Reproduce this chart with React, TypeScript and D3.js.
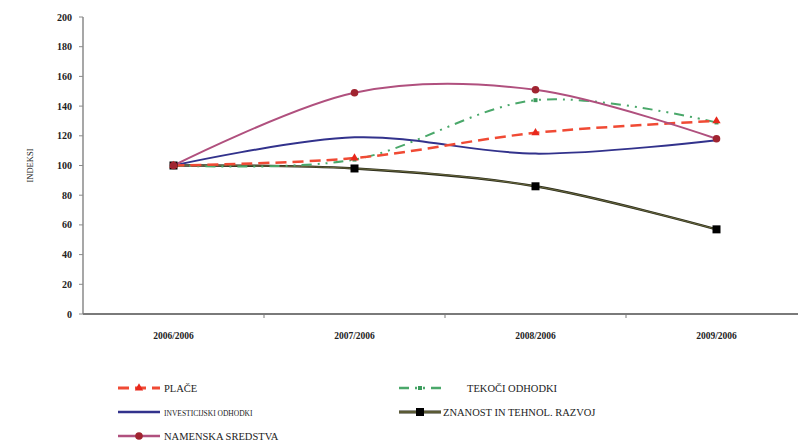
import { useEffect, useRef } from 'react'
import * as d3 from 'd3'

const categories = ['2006/2006', '2007/2006', '2008/2006', '2009/2006']
const yTicks = [0, 20, 40, 60, 80, 100, 120, 140, 160, 180, 200]

const place = [100, 105, 122, 130]
const tekoci = [100, 104, 144, 129]
const investicijski = [100, 119, 108, 117]
const znanost = [100, 98, 86, 57]
const namenska = [100, 149, 151, 118]

interface Series {
  name: string
  values: number[]
  color: string
  width: number
  dash?: string
  marker?: 'triangle' | 'square' | 'circle' | 'dot'
  markerColor?: string
  outline?: string
  fontSize: number
}

const series: Series[] = [
  { name: 'ZNANOST IN TEHNOL. RAZVOJ', values: znanost, color: '#6b6b3e', width: 1.6, outline: '#2a2a1a', marker: 'square', markerColor: '#000', fontSize: 10.5 },
  { name: 'INVESTICIJSKI ODHODKI', values: investicijski, color: '#32328c', width: 2, fontSize: 7.5 },
  { name: 'TEKOČI ODHODKI', values: tekoci, color: '#4aa86a', width: 2, dash: '10,6,2,6,2,6', marker: 'dot', markerColor: '#3c9a5c', fontSize: 10.5 },
  { name: 'PLAČE', values: place, color: '#f04a34', width: 2.5, dash: '11,6', marker: 'triangle', markerColor: '#e8281c', fontSize: 10.5 },
  { name: 'NAMENSKA SREDSTVA', values: namenska, color: '#b0507e', width: 2, marker: 'circle', markerColor: '#a02430', fontSize: 10.5 },
]

const legendOrder = ['PLAČE', 'TEKOČI ODHODKI', 'INVESTICIJSKI ODHODKI', 'ZNANOST IN TEHNOL. RAZVOJ', 'NAMENSKA SREDSTVA']

const FONT = "'Liberation Serif', 'DejaVu Serif', 'Times New Roman', serif"

function drawMarker(g: d3.Selection<SVGGElement, unknown, null, undefined>, s: Series, x: number, y: number) {
  if (s.marker === 'triangle') {
    g.append('path')
      .attr('d', d3.symbol(d3.symbolTriangle, 30)())
      .attr('transform', `translate(${x},${y})`)
      .attr('fill', s.markerColor!)
  } else if (s.marker === 'square') {
    g.append('rect')
      .attr('x', x - 4).attr('y', y - 4)
      .attr('width', 8).attr('height', 8)
      .attr('fill', s.markerColor!)
  } else if (s.marker === 'circle') {
    g.append('circle')
      .attr('cx', x).attr('cy', y).attr('r', 3.8)
      .attr('fill', s.markerColor!)
  } else if (s.marker === 'dot') {
    g.append('rect')
      .attr('x', x - 2).attr('y', y - 2)
      .attr('width', 4).attr('height', 4)
      .attr('fill', s.markerColor!)
  }
}

export default function App() {
  const svgRef = useRef<SVGSVGElement>(null)

  useEffect(() => {
    if (!svgRef.current) return
    const svg = d3.select(svgRef.current)
    svg.selectAll('*').remove()

    const x = d3.scaleBand().domain(categories).range([83, 807]).paddingInner(0).paddingOuter(0)
    const y = d3.scaleLinear().domain([0, 200]).range([314, 17])
    const cx = (c: string) => x(c)! + x.bandwidth() / 2

    // y axis
    const yAxis = svg.append('g')
    yAxis.append('line')
      .attr('x1', 83).attr('x2', 83).attr('y1', y(200)).attr('y2', y(0))
      .attr('stroke', '#8a8a8a').attr('stroke-width', 1.5)
    yTicks.forEach(t => {
      yAxis.append('line')
        .attr('x1', 79).attr('x2', 83).attr('y1', y(t)).attr('y2', y(t))
        .attr('stroke', '#8a8a8a').attr('stroke-width', 1)
      yAxis.append('text')
        .attr('x', 72).attr('y', y(t) + 3.5)
        .attr('text-anchor', 'end')
        .style('font-family', FONT).attr('font-size', 10).attr('font-weight', 'bold')
        .attr('fill', '#222')
        .text(t)
    })

    // x axis
    const xAxis = svg.append('g')
    xAxis.append('line')
      .attr('x1', 83).attr('x2', 807).attr('y1', y(0)).attr('y2', y(0))
      .attr('stroke', '#7a7a7a').attr('stroke-width', 2)
    categories.forEach((c, i) => {
      if (i > 0) {
        xAxis.append('line')
          .attr('x1', x(c)!).attr('x2', x(c)!).attr('y1', y(0)).attr('y2', y(0) + 4)
          .attr('stroke', '#7a7a7a').attr('stroke-width', 1)
      }
      xAxis.append('text')
        .attr('x', cx(c)).attr('y', y(0) + 25)
        .attr('text-anchor', 'middle')
        .style('font-family', FONT).attr('font-size', 9.5).attr('font-weight', 'bold')
        .attr('fill', '#222')
        .text(c)
    })

    svg.append('text')
      .attr('transform', `translate(33,${y(100)}) rotate(-90)`)
      .attr('text-anchor', 'middle')
      .style('font-family', FONT).attr('font-size', 8.5)
      .attr('fill', '#222')
      .text('INDEKSI')

    // lines
    const line = d3.line<number>()
      .x((_, i) => cx(categories[i]))
      .y(d => y(d))
      .curve(d3.curveCardinal.tension(0))

    const plot = svg.append('g')
    series.forEach(s => {
      if (s.outline) {
        plot.append('path')
          .attr('d', line(s.values))
          .attr('fill', 'none')
          .attr('stroke', s.outline)
          .attr('stroke-width', s.width + 0.8)
      }
      plot.append('path')
        .attr('d', line(s.values))
        .attr('fill', 'none')
        .attr('stroke', s.color)
        .attr('stroke-width', s.outline ? s.width - 0.6 : s.width)
        .attr('stroke-dasharray', s.dash ?? null)
    })
    series.forEach(s => {
      s.values.forEach((v, i) => {
        drawMarker(plot, s, cx(categories[i]), y(v))
      })
    })

    // legend
    const legend = svg.append('g')
    legendOrder.forEach((name, i) => {
      const s = series.find(d => d.name === name)!
      const col = i % 2
      const row = Math.floor(i / 2)
      const lx = col === 0 ? 118 : 399
      const ly = 388 + row * 24
      if (s.outline) {
        legend.append('line')
          .attr('x1', lx).attr('x2', lx + 42).attr('y1', ly).attr('y2', ly)
          .attr('stroke', s.outline).attr('stroke-width', s.width + 1.5)
      }
      legend.append('line')
        .attr('x1', lx).attr('x2', lx + 42).attr('y1', ly).attr('y2', ly)
        .attr('stroke', s.color).attr('stroke-width', s.outline ? s.width : s.width + 0.5)
        .attr('stroke-dasharray', s.dash ?? null)
      drawMarker(legend, s, lx + 21, ly)
      legend.append('text')
        .attr('x', col === 0 ? lx + 46 : (name === 'TEKOČI ODHODKI' ? lx + 68 : lx + 44))
        .attr('y', ly + 4)
        .style('font-family', FONT).attr('font-size', s.fontSize)
        .attr('fill', '#222')
        .text(name)
    })
  }, [])

  return (
    <svg ref={svgRef} width={798} height={445}
      style={{ position: 'absolute', left: 0, top: 0, background: '#fff' }} />
  )
}
